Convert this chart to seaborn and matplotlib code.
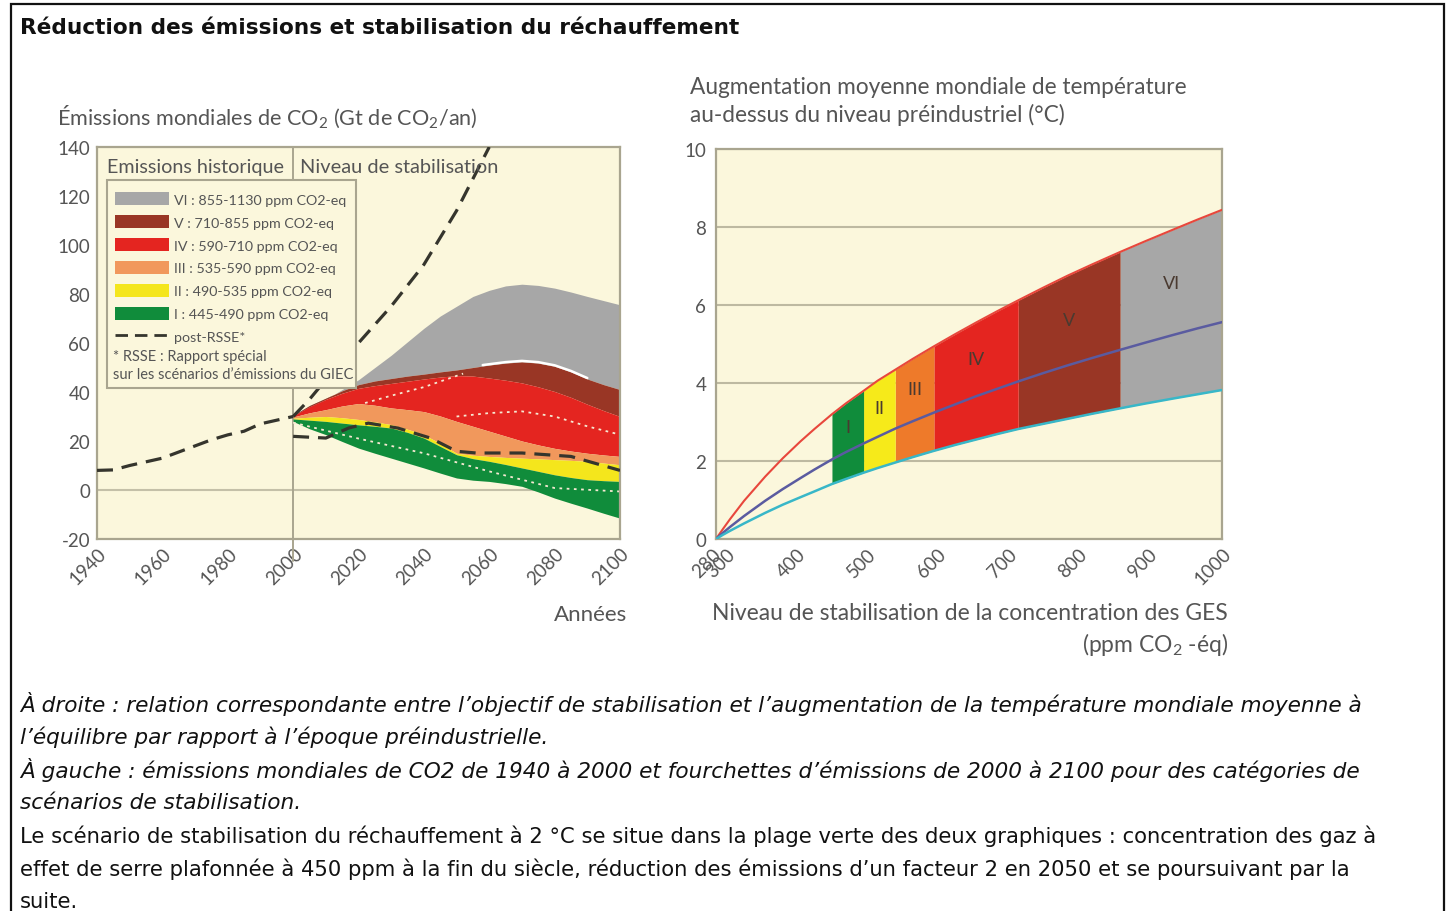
import numpy as np
import pandas as pd
import matplotlib
matplotlib.use("Agg")
import matplotlib.pyplot as plt
import matplotlib.transforms as mtransforms
import seaborn as sns
from matplotlib.patches import Patch, Rectangle
from matplotlib.lines import Line2D

# ---------------- data ----------------
# Left chart: historical emissions (Gt CO2/yr)
hist_years = [1940, 1945, 1950, 1955, 1960, 1965, 1970, 1975, 1980, 1985, 1990, 1995, 2000]
hist_vals = [8, 8.2, 10, 11.5, 13, 15.5, 18, 20.5, 22.5, 24, 27, 28.5, 30]

# post-RSSE range (dashed)
rsse_up_years = [2000, 2005, 2010, 2020, 2030, 2040, 2050, 2060]
rsse_up_vals = [30, 37, 45, 60, 75, 92, 114, 140]
rsse_lo_years = [2000, 2010, 2017, 2023, 2032, 2042, 2050, 2056, 2070, 2085, 2100]
rsse_lo_vals = [21.9, 21.2, 25.3, 27.3, 25.3, 21.2, 15.8, 15.1, 15.1, 13.7, 8.0]

# Stabilisation category bands 2000-2100
band_years = [2000, 2005, 2010, 2015, 2020, 2025, 2030, 2035, 2040, 2045, 2050, 2055,
              2060, 2065, 2070, 2075, 2080, 2085, 2090, 2095, 2100]
vi_top = [30.5, 33.5, 37, 41, 45, 50, 55, 60.5, 66, 71, 75, 79, 81.5, 83.3, 84, 83.5,
          82.4, 80.8, 79, 77.3, 75.6]
v_top = [30.5, 34.5, 37.5, 40.5, 43, 44.5, 45.5, 46.5, 47.3, 48.2, 49, 50, 51, 51.8,
         52.3, 51.8, 50.5, 48.2, 45.3, 43, 41]
iv_top = [30.3, 34, 37, 39.5, 41.5, 42.6, 43.5, 44.4, 45.3, 46.1, 46.7, 46.5, 45.7, 44.8,
          43.7, 42.1, 40.2, 37.8, 35, 32.4, 30]
iii_top = [29.8, 31.5, 32.8, 34.3, 35.3, 34.6, 33.5, 32.8, 32, 30.2, 28, 26, 24, 22,
           20, 18.4, 17, 15.9, 15, 14.3, 13.7]
ii_top = [29.3, 29.7, 30, 29.5, 28.8, 27.8, 26.7, 24.8, 22.6, 19, 15, 14.2, 13.7, 13.3,
          13, 12.7, 12.4, 12.1, 11.7, 11, 10.3]
i_top = [29, 28.5, 28, 27.3, 26.6, 26, 25.3, 23.5, 21.2, 17.8, 14.4, 12.8, 11.7, 10.4,
         9, 7.6, 6.2, 5.1, 4.2, 3.8, 3.5]
i_bottom = [28, 25, 22.6, 19.8, 17.1, 15, 13, 11, 9, 6.9, 4.9, 4, 3.5, 2.6, 1.5, -0.8,
            -3.3, -5.4, -7.4, -9.5, -11.5]

# median (white dotted) lines inside bands
med_a_years = [2022, 2030, 2040, 2052]
med_a_vals = [35.5, 38.5, 42, 47.5]
med_b_years = [2050, 2060, 2070, 2080, 2090, 2100]
med_b_vals = [30, 31.4, 32.1, 30, 26, 22.6]
med_c_years = [2000, 2020, 2040, 2060, 2080, 2100]
med_c_vals = [27.5, 21, 15, 7.6, 0.8, -0.6]
gap_years = [2058, 2065, 2070, 2075, 2080, 2085, 2090]

categories = ["VI", "V", "IV", "III", "II", "I"]
legend_labels = ["VI : 855-1130 ppm CO2-eq", "V : 710-855 ppm CO2-eq",
                 "IV : 590-710 ppm CO2-eq", "III : 535-590 ppm CO2-eq",
                 "II : 490-535 ppm CO2-eq", "I : 445-490 ppm CO2-eq"]
left_x_ticks = [1940, 1960, 1980, 2000, 2020, 2040, 2060, 2080, 2100]
left_y_ticks = [-20, 0, 20, 40, 60, 80, 100, 120, 140]

# Right chart: equilibrium warming vs stabilisation level
ppm = [280, 290, 300, 320, 350, 375, 400, 420, 445, 465, 490, 510, 535, 560, 590, 620,
       650, 680, 710, 745, 780, 815, 855, 890, 930, 965, 1000]
temp_high = [0, 0.26, 0.51, 0.98, 1.6, 2.07, 2.5, 2.82, 3.2, 3.48, 3.8, 4.06, 4.34, 4.62,
             4.94, 5.25, 5.55, 5.84, 6.12, 6.44, 6.75, 7.04, 7.36, 7.63, 7.93, 8.19, 8.44]
temp_best = [0, 0.16, 0.31, 0.59, 0.98, 1.28, 1.56, 1.78, 2.04, 2.23, 2.45, 2.62, 2.83,
             3.02, 3.24, 3.45, 3.66, 3.85, 4.04, 4.25, 4.45, 4.64, 4.85, 5.03, 5.23, 5.4, 5.56]
temp_low = [0, 0.11, 0.21, 0.4, 0.67, 0.88, 1.07, 1.22, 1.41, 1.54, 1.7, 1.82, 1.96, 2.1,
            2.26, 2.41, 2.55, 2.69, 2.82, 2.95, 3.08, 3.21, 3.35, 3.47, 3.6, 3.71, 3.82]
cat_bounds = [1000, 855, 710, 590, 535, 490, 445]  # VI ... I (upper/lower limits)
right_x_ticks = [280, 300, 400, 500, 600, 700, 800, 900, 1000]
right_y_ticks = [0, 2, 4, 6, 8, 10]

caption_lines = [
    "À droite : relation correspondante entre l’objectif de stabilisation et l’augmentation de la température mondiale moyenne à",
    "l’équilibre par rapport à l’époque préindustrielle.",
    "À gauche : émissions mondiales de CO2 de 1940 à 2000 et fourchettes d’émissions de 2000 à 2100 pour des catégories de",
    "scénarios de stabilisation.",
    "Le scénario de stabilisation du réchauffement à 2 °C se situe dans la plage verte des deux graphiques : concentration des gaz à",
    "effet de serre plafonnée à 450 ppm à la fin du siècle, réduction des émissions d’un facteur 2 en 2050 et se poursuivant par la",
    "suite.",
]
caption_italic = [True, True, True, True, False, False, False]

# ---------------- style ----------------
sns.set_theme(style="white")
plt.rcParams["font.family"] = ["Lato", "DejaVu Sans"]
plt.rcParams["mathtext.fontset"] = "custom"
plt.rcParams["mathtext.rm"] = "Lato"
plt.rcParams["mathtext.it"] = "Lato:italic"
plt.rcParams["mathtext.default"] = "rm"

W, H = 1447, 912
CREAM = "#FBF7DC"
FRAME = "#A9A58F"
TXT = "#555555"
left_colors = ["#A7A7A7", "#993625", "#E42520", "#F1985C", "#F4E61C", "#108C3B"]
right_colors = ["#A7A7A7", "#993625", "#E42520", "#EE7A2A", "#F6EA1A", "#108C3B"]
DASH = "#35352d"

fig = plt.figure(figsize=(W / 100, H / 100), dpi=100)
fig.patch.set_facecolor("white")


def fx(px):
    return px / W


def fy(py):
    return 1 - py / H


# outer frame (bottom edge falls outside the picture)
fig.add_artist(Rectangle((fx(11), fy(918)), fx(1444) - fx(11), fy(5) - fy(918),
                         transform=fig.transFigure, fill=False, ec="#111111", lw=1.6))

fig.text(fx(20), fy(28), "Réduction des émissions et stabilisation du réchauffement",
         family="DejaVu Sans", fontweight="bold", fontsize=15.6, va="center", color="#111111")

shift = mtransforms.ScaledTranslation(-9 / 100, 0, fig.dpi_scale_trans)

# ---------------- left chart ----------------
axL = fig.add_axes([fx(97), fy(540), fx(620) - fx(97), fy(148) - fy(540)])
axL.set_facecolor(CREAM)
axL.set_xlim(1940, 2100)
axL.set_ylim(-20, 140)
for s in axL.spines.values():
    s.set_color(FRAME)
    s.set_linewidth(1.6)

axL.axhline(0, color="#C4C0A8", lw=1.5, zorder=1)
axL.axvline(2000, ymin=-0.055, ymax=1, color="#A9A58F", lw=1.4, zorder=1, clip_on=False)

tops = [vi_top, v_top, iv_top, iii_top, ii_top, i_top]
bottoms = [v_top, iv_top, iii_top, ii_top, i_top, i_bottom]
for k, (t, b, c) in enumerate(zip(tops, bottoms, left_colors)):
    axL.fill_between(band_years, b, t, color=c, lw=0, zorder=2 + k * 0.01)

# thin white gap between VI and V
gy = np.array(gap_years, dtype=float)
gv = np.interp(gy, band_years, v_top)
axL.plot(gy, gv + 0.4, color="white", lw=1.8, zorder=2.1, solid_capstyle="round")

for yrs, vals in [(med_a_years, med_a_vals), (med_b_years, med_b_vals), (med_c_years, med_c_vals)]:
    sns.lineplot(x=yrs, y=vals, ax=axL, color="#F6E9D2", lw=1.3, zorder=2.5)
    axL.lines[-1].set_dashes((1.5, 2.5))

for yrs, vals in [(hist_years, hist_vals), (rsse_up_years, rsse_up_vals), (rsse_lo_years, rsse_lo_vals)]:
    sns.lineplot(x=yrs, y=vals, ax=axL, color=DASH, lw=2.3, zorder=3)
    axL.lines[-1].set_dashes((5, 2.8))

axL.set_xticks(left_x_ticks)
axL.set_yticks(left_y_ticks)
axL.set_xticklabels([str(v) for v in left_x_ticks], rotation=45, ha="center")
axL.set_yticklabels([str(v) for v in left_y_ticks])
axL.tick_params(axis="both", length=0, labelsize=13.5, labelcolor=TXT)
axL.tick_params(axis="y", pad=5)
axL.tick_params(axis="x", pad=4)
for lab in axL.get_xticklabels():
    lab.set_transform(lab.get_transform() + shift)
axL.set_xlabel("")
axL.set_ylabel("")
axL.grid(False)

# legend box
axL.add_patch(Rectangle((0.0191, 0.3852), 0.4761, 0.5306, transform=axL.transAxes,
                        fc=CREAM, ec=FRAME, lw=1.5, zorder=5))
handles = [Patch(facecolor=c, edgecolor="none", label=l) for c, l in zip(left_colors, legend_labels)]
handles.append(Line2D([], [], color=DASH, lw=2.0, dashes=(4.5, 2.5), label="post-RSSE*"))
leg = axL.legend(handles=handles, loc="upper left", bbox_to_anchor=(0.034, 0.884),
                 frameon=False, borderpad=0, borderaxespad=0, handlelength=3.8,
                 handleheight=1.0, handletextpad=0.35, labelspacing=0.67,
                 prop={"family": "Lato", "size": 10.3}, labelcolor=TXT)
leg.set_zorder(6)
axL.text(0.031, (540 - 357) / 392, "* RSSE : Rapport spécial", transform=axL.transAxes,
         fontsize=10.5, color=TXT, va="center", zorder=7)
axL.text(0.031, (540 - 375) / 392, "sur les scénarios d’émissions du GIEC", transform=axL.transAxes,
         fontsize=10.5, color=TXT, va="center", zorder=7)
axL.text(0.02, 0.951, "Emissions historique", transform=axL.transAxes,
         fontsize=14.2, color=TXT, va="center", zorder=7)
axL.text(0.388, 0.951, "Niveau de stabilisation", transform=axL.transAxes,
         fontsize=14.4, color=TXT, va="center", zorder=7)

fig.text(fx(57), fy(117), "Émissions mondiales de CO$_2$ (Gt de CO$_2$/an)",
         fontsize=15.6, color=TXT, va="center")
fig.text(fx(627), fy(615), "Années", fontsize=16, color=TXT, va="center", ha="right")

# ---------------- right chart ----------------
axR = fig.add_axes([fx(716), fy(540), fx(1222) - fx(716), fy(150) - fy(540)])
axR.set_facecolor(CREAM)
axR.set_xlim(280, 1000)
axR.set_ylim(0, 10)
for s in axR.spines.values():
    s.set_color(FRAME)
    s.set_linewidth(1.6)
axR.set_yticks(right_y_ticks)
axR.grid(axis="y", color="#BDB9A1", lw=1.5, zorder=0)
axR.grid(axis="x", visible=False)
axR.set_axisbelow(True)

px = np.array(ppm, dtype=float)
th = np.array(temp_high)
tb = np.array(temp_best)
tl = np.array(temp_low)
for k, cat in enumerate(categories):
    hi, lo = cat_bounds[k], cat_bounds[k + 1]
    msk = (px >= lo) & (px <= hi)
    axR.fill_between(px[msk], tl[msk], th[msk], color=right_colors[k], lw=0, zorder=2)
    xc = (lo + hi) / 2
    yc = (np.interp(xc, px, th) + np.interp(xc, px, tb)) / 2
    axR.text(xc, yc, cat, ha="center", va="center", fontsize=13, color="#4a3a30", zorder=4)

df_r = pd.DataFrame({"ppm": ppm, "haut": temp_high, "moyen": temp_best, "bas": temp_low})
sns.lineplot(data=df_r, x="ppm", y="haut", ax=axR, color="#E8473C", lw=1.5, zorder=3)
sns.lineplot(data=df_r, x="ppm", y="moyen", ax=axR, color="#5A5BA0", lw=1.8, zorder=3)
sns.lineplot(data=df_r, x="ppm", y="bas", ax=axR, color="#38B7C8", lw=1.8, zorder=3)

axR.set_xticks(right_x_ticks)
axR.set_xticklabels([str(v) for v in right_x_ticks], rotation=45, ha="center")
axR.set_yticklabels([str(v) for v in right_y_ticks])
axR.tick_params(axis="both", length=0, labelsize=13.5, labelcolor=TXT)
axR.tick_params(axis="y", pad=7)
axR.tick_params(axis="x", pad=4)
for lab in axR.get_xticklabels():
    lab.set_transform(lab.get_transform() + shift)
axR.set_xlabel("")
axR.set_ylabel("")

fig.text(fx(690), fy(87), "Augmentation moyenne mondiale de température", fontsize=16.3, color=TXT, va="center")
fig.text(fx(690), fy(115), "au-dessus du niveau préindustriel (°C)", fontsize=16.3, color=TXT, va="center")
fig.text(fx(1228), fy(614), "Niveau de stabilisation de la concentration des GES", fontsize=16.5,
         color=TXT, va="center", ha="right")
fig.text(fx(1228), fy(645), "(ppm CO$_2$ -éq)", fontsize=16.5, color=TXT, va="center", ha="right")

# ---------------- caption ----------------
for i, (line, it) in enumerate(zip(caption_lines, caption_italic)):
    fig.text(fx(20), fy(704 + i * 33), line, family="DejaVu Sans",
             style="italic" if it else "normal", fontsize=15.6 if it else 15.25,
             color="#111111", va="center")

fig.savefig("out.png", dpi=100)
